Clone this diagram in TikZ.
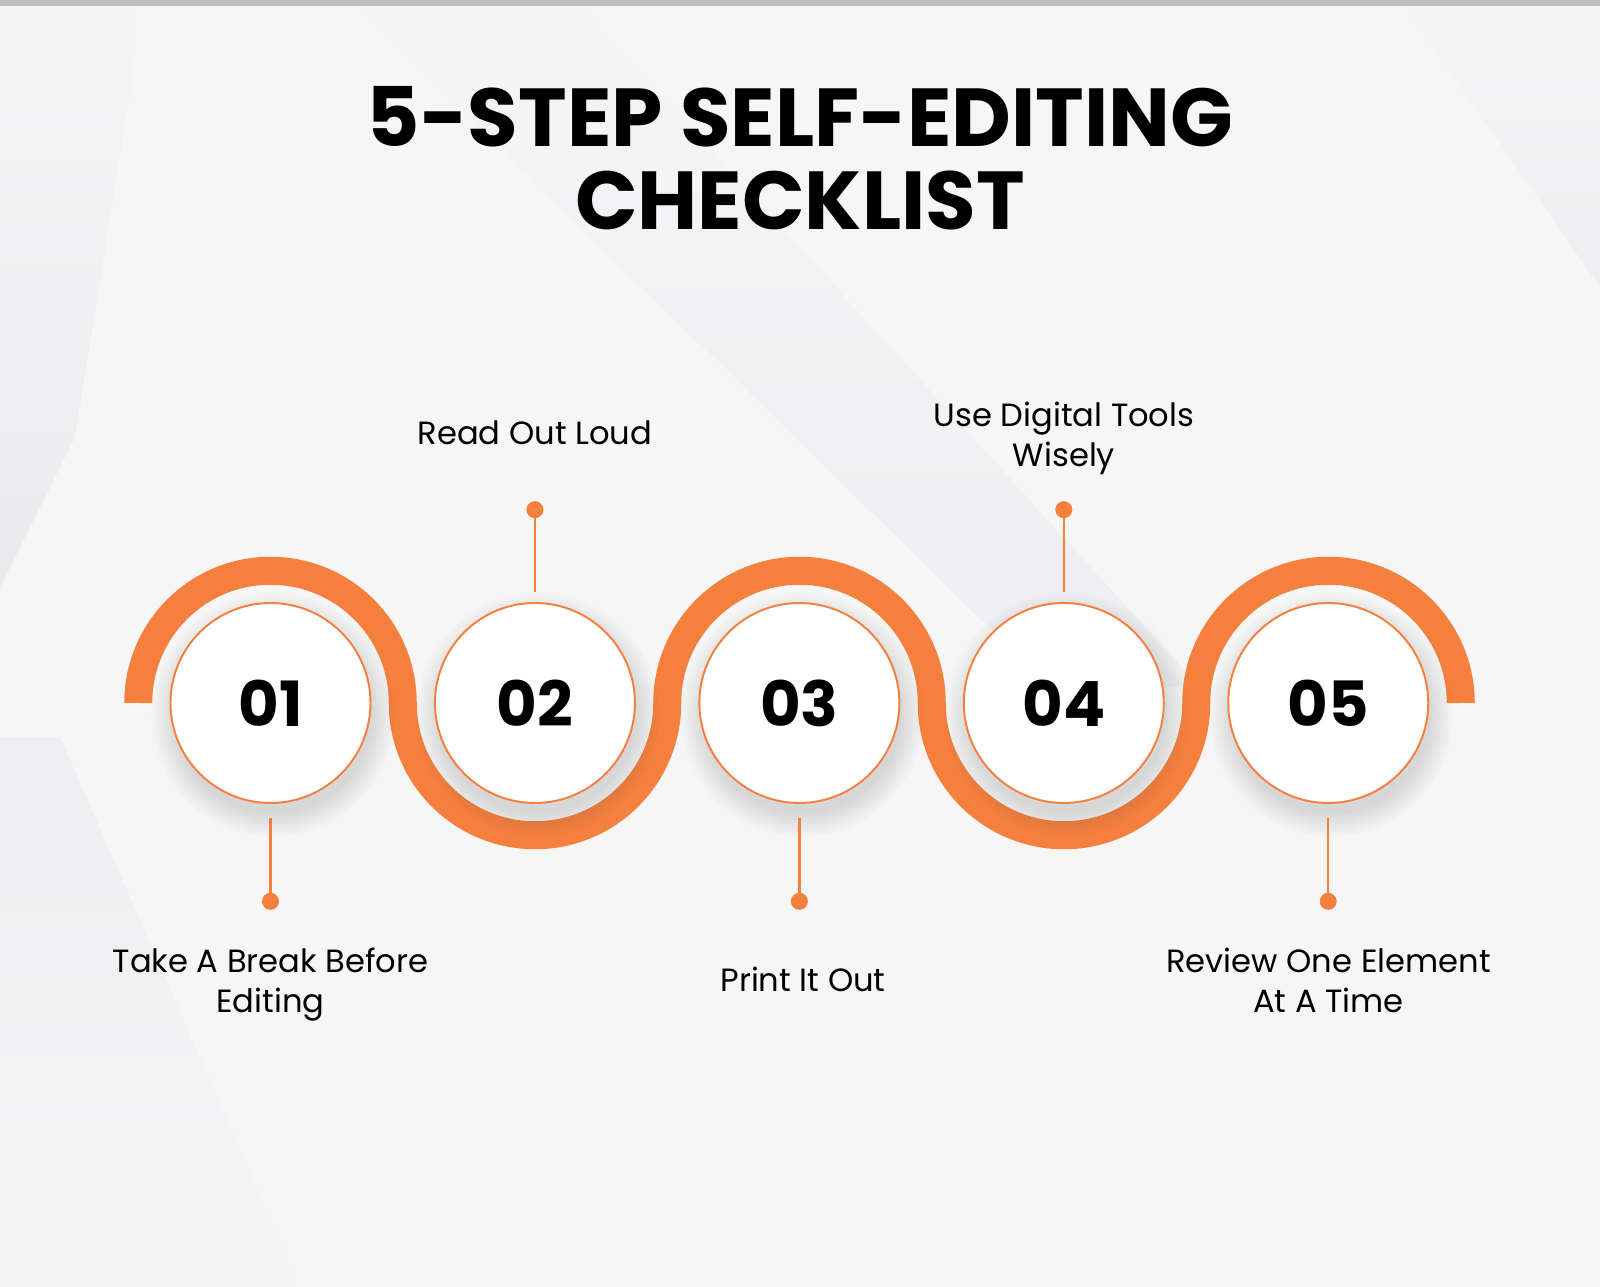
\documentclass[tikz,border=0pt]{standalone}
\usepackage{fontspec}
\setmainfont{Poppins}
\usepackage{xcolor}
\usepackage{tikz}
\usetikzlibrary{positioning,fadings}

\definecolor{brandorange}{HTML}{F57F3D}
\definecolor{paper}{HTML}{F6F6F7}
\definecolor{streak}{HTML}{E4E4E8}
\definecolor{topbar}{HTML}{BDBDC2}

\begin{document}
\begin{tikzpicture}
\tikzset{
  stepcirc/.style={circle, draw=brandorange, line width=1.1pt, fill=white,
                   minimum size=4cm, inner sep=0pt, font=\fontsize{35.5}{40}\selectfont\bfseries},
  band/.style    ={draw=brandorange, line width=0.56cm, line cap=butt},
  stem/.style    ={draw=brandorange, line width=1.3pt},
  pin/.style     ={circle, fill=brandorange, minimum size=0.34cm, inner sep=0pt},
  lbl/.style     ={align=center, font=\fontsize{18.3}{22.8}\selectfont},
  halo/.style    ={fill=black!70, opacity=0.18, path fading=circle with fuzzy edge 20 percent}
}
% background
\useasboundingbox (0,0) rectangle (32,25.74);
\fill[paper] (0,0) rectangle (32,25.74);
\fill[streak, opacity=0.6, path fading=north] (0,25.74) -- (2.6,25.74) -- (2.6,23.9) -- (1.5,17) -- (0,14) -- cycle;
\fill[streak, opacity=0.4, path fading=north] (7,25.74) -- (11.5,25.74) -- (24,12) -- (21,12) -- cycle;
\fill[streak, opacity=0.4, path fading=south] (0,11) -- (1.2,11) -- (6,0) -- (0,0) -- cycle;
\fill[streak, opacity=0.4, path fading=north] (28,25.74) -- (32,25.74) -- (32,20) -- cycle;
\fill[topbar] (0,25.62) rectangle (32,25.74);

% title
\node (title) [align=center, font=\fontsize{46.8}{47.2}\selectfont\bfseries] at (16.0,22.57)
  {5-STEP SELF-EDITING\\CHECKLIST};

% wave
\draw[band] (2.765,11.68) arc[start angle=180, end angle=0, radius=2.645]
  arc[start angle=180, end angle=360, radius=2.645]
  arc[start angle=180, end angle=0, radius=2.645]
  arc[start angle=180, end angle=360, radius=2.645]
  arc[start angle=180, end angle=0, radius=2.645];

% soft shadows under the circles
\fill[halo] (5.46,11.45) circle (2.45);
\fill[halo] (10.75,11.45) circle (2.45);
\fill[halo] (16.04,11.45) circle (2.45);
\fill[halo] (21.33,11.45) circle (2.45);
\fill[halo] (26.62,11.45) circle (2.45);

% steps
\node (c1)[stepcirc] at (5.41,11.68) {01};
\node (c2)[stepcirc,right=1.25cm of c1] {02};
\node (c3)[stepcirc,right=1.25cm of c2] {03};
\node (c4)[stepcirc,right=1.25cm of c3] {04};
\node (c5)[stepcirc,right=1.25cm of c4] {05};

% pins
\node (p1)[pin,below=1.77cm of c1] {};
\node (p2)[pin,above=1.67cm of c2] {};
\node (p3)[pin,below=1.77cm of c3] {};
\node (p4)[pin,above=1.67cm of c4] {};
\node (p5)[pin,below=1.77cm of c5] {};
\draw[stem] ([yshift=-0.28cm]c1.south) -- (p1.center);
\draw[stem] ([yshift=0.2cm]c2.north) -- (p2.center);
\draw[stem] ([yshift=-0.28cm]c3.south) -- (p3.center);
\draw[stem] ([yshift=0.2cm]c4.north) -- (p4.center);
\draw[stem] ([yshift=-0.28cm]c5.south) -- (p5.center);

% labels
\node (l1)[lbl] at (5.41,6.04) {Take A Break Before\\Editing};
\node (l2)[lbl] at (10.70,17.08) {Read Out Loud};
\node (l3)[lbl] at (16.06,6.16) {Print It Out};
\node (l4)[lbl] at (21.28,16.98) {Use Digital Tools\\Wisely};
\node (l5)[lbl] at (26.57,6.14) {Review One Element\\At A Time};
\end{tikzpicture}
\end{document}
